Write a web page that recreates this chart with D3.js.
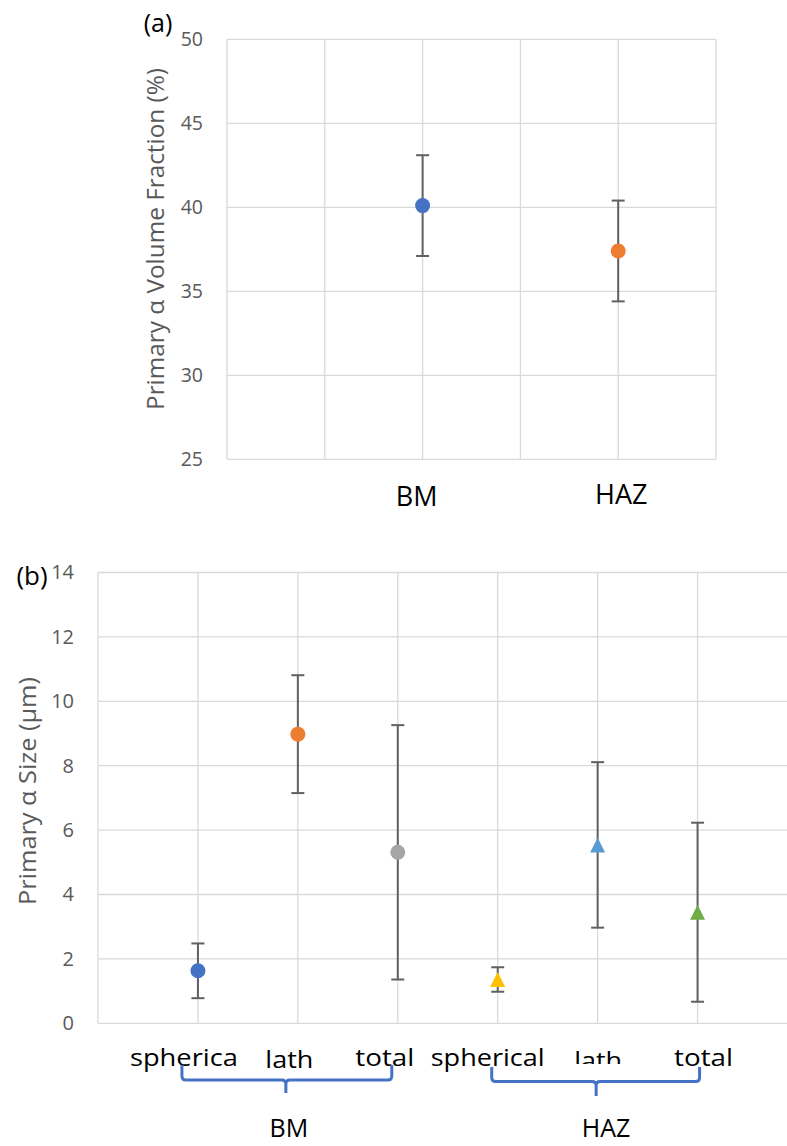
<!DOCTYPE html>
<html>
<head>
<meta charset="utf-8">
<script src="https://cdn.jsdelivr.net/npm/d3@7/dist/d3.min.js"></script>
<style>
  html, body { margin: 0; padding: 0; background: #fff; }
  svg { display: block; font-family: "Open Sans", "Noto Sans", sans-serif; }
</style>
</head>
<body>
<svg id="fig" width="787" height="1146"></svg>
<script>
// ---- Panel (a): primary alpha volume fraction ----
const aCategories = ["BM", "HAZ"];
const aValues = [40.1, 37.4];
const aErrors = [3.0, 3.0];
const aColors = ["#4472C4", "#ED7D31"];
const aYTicks = [25, 30, 35, 40, 45, 50];

// ---- Panel (b): primary alpha size ----
const bGroups = ["BM", "HAZ"];
const bCategories = ["spherica", "lath", "total", "spherical", "lath", "total"];
const bValues = [1.63, 8.98, 5.31, 1.36, 5.54, 3.45];
const bErrors = [0.85, 1.83, 3.95, 0.38, 2.57, 2.78];
const bColors = ["#4472C4", "#ED7D31", "#A5A5A5", "#FFC000", "#5B9BD5", "#70AD47"];
const bShapes = ["circle", "circle", "circle", "triangle", "triangle", "triangle"];
const bYTicks = [0, 2, 4, 6, 8, 10, 12, 14];

const svg = d3.select("#fig");
const GRID = "#d9d9d9";
const AXIS_TEXT = "#595959";
const ERR = "#606060";

function drawErrorBars(g, xs, ys, vals, errs, cap) {
  vals.forEach((v, i) => {
    const x = xs(i + 1);
    const y1 = ys(v + errs[i]), y0 = ys(v - errs[i]);
    g.append("line").attr("x1", x).attr("x2", x).attr("y1", y1).attr("y2", y0)
      .attr("stroke", ERR).attr("stroke-width", 2);
    [y1, y0].forEach(yy => g.append("line")
      .attr("x1", x - cap / 2).attr("x2", x + cap / 2).attr("y1", yy).attr("y2", yy)
      .attr("stroke", ERR).attr("stroke-width", 2));
  });
}

// ================= Panel (a) =================
{
  const x = d3.scaleLinear().domain([0, 2.5]).range([227, 716]);
  const y = d3.scaleLinear().domain([25, 50]).range([459.3, 39.3]);
  const g = svg.append("g");

  // gridlines
  g.selectAll(".hg").data(aYTicks).join("line")
    .attr("x1", x(0)).attr("x2", x(2.5))
    .attr("y1", d => y(d)).attr("y2", d => y(d))
    .attr("stroke", GRID).attr("stroke-width", 1.3);
  g.selectAll(".vg").data(d3.range(0, 2.51, 0.5)).join("line")
    .attr("x1", d => x(d)).attr("x2", d => x(d))
    .attr("y1", y(25)).attr("y2", y(50))
    .attr("stroke", GRID).attr("stroke-width", 1.3);

  // y axis labels
  const yAxis = d3.axisLeft(y).tickValues(aYTicks).tickSize(0).tickPadding(0);
  const ya = g.append("g").attr("transform", `translate(203,0)`).call(yAxis);
  ya.select(".domain").remove();
  ya.selectAll("text").attr("font-size", 19.5).attr("fill", AXIS_TEXT)
    .attr("font-family", "Open Sans");

  // y title
  g.append("text")
    .attr("transform", `translate(164,${(68 + 410) / 2}) rotate(-90)`)
    .attr("text-anchor", "middle")
    .attr("font-size", 23).attr("fill", AXIS_TEXT)
    .attr("textLength", 342).attr("lengthAdjust", "spacingAndGlyphs")
    .text("Primary α Volume Fraction (%)");

  drawErrorBars(g, x, y, aValues, aErrors, 13);

  g.selectAll(".pt").data(aValues).join("circle")
    .attr("cx", (d, i) => x(i + 1)).attr("cy", d => y(d)).attr("r", 7.5)
    .attr("fill", (d, i) => aColors[i]);

  // category labels
  const aLabelShift = [-6, 3];
  g.selectAll(".cl").data(aCategories).join("text")
    .attr("x", (d, i) => x(i + 1) + aLabelShift[i])
    .attr("y", (d, i) => i === 0 ? 505.7 : 504)
    .attr("text-anchor", "middle").attr("font-size", 27).attr("fill", "#000")
    .text(d => d);

  svg.append("text").attr("x", 158).attr("y", 32).attr("text-anchor", "middle")
    .attr("font-size", 25).attr("fill", "#000").text("(a)");
}

// ================= Panel (b) =================
{
  const x = d3.scaleLinear().domain([0, 7]).range([98, 797.5]);
  const y = d3.scaleLinear().domain([0, 14]).range([1023.3, 572.5]);
  const g = svg.append("g");

  g.selectAll(".hg").data(bYTicks).join("line")
    .attr("x1", x(0)).attr("x2", x(7))
    .attr("y1", d => y(d)).attr("y2", d => y(d))
    .attr("stroke", GRID).attr("stroke-width", 1.3);
  g.selectAll(".vg").data(d3.range(0, 8)).join("line")
    .attr("x1", d => x(d)).attr("x2", d => x(d))
    .attr("y1", y(0)).attr("y2", y(14))
    .attr("stroke", GRID).attr("stroke-width", 1.3);

  const yAxis = d3.axisLeft(y).tickValues(bYTicks).tickSize(0).tickPadding(0);
  const ya = g.append("g").attr("transform", `translate(74,0)`).call(yAxis);
  ya.select(".domain").remove();
  ya.selectAll("text").attr("font-size", 20).attr("fill", AXIS_TEXT)
    .attr("font-family", "Open Sans");

  g.append("text")
    .attr("transform", `translate(36,791) rotate(-90)`)
    .attr("text-anchor", "middle")
    .attr("font-size", 23).attr("fill", AXIS_TEXT)
    .attr("textLength", 228).attr("lengthAdjust", "spacingAndGlyphs")
    .text("Primary α Size (µm)");

  drawErrorBars(g, x, y, bValues, bErrors, 13);

  bValues.forEach((v, i) => {
    if (bShapes[i] === "circle") {
      g.append("circle").attr("cx", x(i + 1)).attr("cy", y(v)).attr("r", 7.5)
        .attr("fill", bColors[i]);
    } else {
      g.append("path")
        .attr("d", "M0,-7.5L7.5,7.5L-7.5,7.5Z")
        .attr("transform", `translate(${x(i + 1)},${y(v)})`)
        .attr("fill", bColors[i]);
    }
  });

  // category labels
  const labelShift = [-14, -8.5, -13, -10, 0.5, 6];
  const labelWidth = [108, 48, 59, 114, 48, 59];
  const labelBase = [1066, 1068, 1066, 1066, 1069, 1066];
  svg.append("clipPath").attr("id", "lathclip")
    .append("rect").attr("x", 560).attr("y", 1030).attr("width", 80).attr("height", 34);
  g.selectAll(".cl").data(bCategories).join("text")
    .attr("x", (d, i) => x(i + 1) + labelShift[i])
    .attr("y", (d, i) => labelBase[i])
    .attr("text-anchor", "middle").attr("font-size", 24).attr("fill", "#000")
    .attr("textLength", (d, i) => labelWidth[i]).attr("lengthAdjust", "spacingAndGlyphs")
    .attr("clip-path", (d, i) => i === 4 ? "url(#lathclip)" : null)
    .text(d => d);

  // group braces
  const braces = [
    { x1: x(1) - 16, xm: x(2) - 12, x2: x(3) - 6, top: 1065, mid: 1080, bot: 1093 },
    { x1: x(4) - 6, xm: x(5) - 1.5, x2: x(6) + 2, top: 1067, mid: 1081.5, bot: 1096 }
  ];
  const r = 4;
  braces.forEach((b, i) => {
    const p = `M${b.x1},${b.top} V${b.mid - r} Q${b.x1},${b.mid} ${b.x1 + r},${b.mid} ` +
      `H${b.xm - r} Q${b.xm},${b.mid} ${b.xm},${b.mid + r} V${b.bot} ` +
      `M${b.xm},${b.mid + r} Q${b.xm},${b.mid} ${b.xm + r},${b.mid} ` +
      `H${b.x2 - r} Q${b.x2},${b.mid} ${b.x2},${b.mid - r} V${b.top}`;
    g.append("path").attr("d", p).attr("fill", "none")
      .attr("stroke", "#4472C4").attr("stroke-width", 3);
    g.append("text").attr("x", b.xm + (i === 0 ? 3 : 10)).attr("y", 1137)
      .attr("text-anchor", "middle").attr("font-size", 25).attr("fill", "#000")
      .text(bGroups[i]);
  });

  svg.append("text").attr("x", 32).attr("y", 585).attr("text-anchor", "middle")
    .attr("font-size", 26).attr("fill", "#000").text("(b)");
}
</script>
</body>
</html>
